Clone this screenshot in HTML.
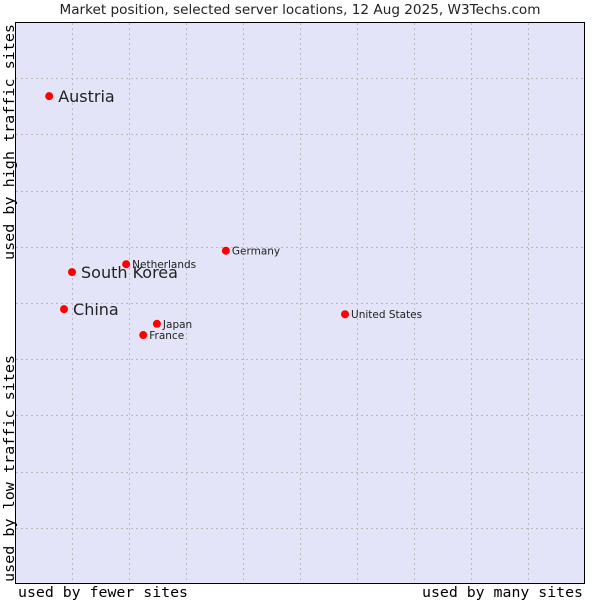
<!DOCTYPE html>
<html><head><meta charset="utf-8"><style>
body{margin:0;background:#fff;}
svg{display:block;font-family:"DejaVu Sans","Liberation Sans",sans-serif;}
.mono{font-family:"DejaVu Sans Mono","Liberation Mono",monospace;font-size:14px;fill:#000;}
</style></head><body>
<svg id="chart" width="600" height="600">
<text x="300" y="14" text-anchor="middle" font-size="13" fill="#222" textLength="481" lengthAdjust="spacingAndGlyphs">Market position, selected server locations, 12 Aug 2025, W3Techs.com</text>
<rect x="15.5" y="22.5" width="569" height="561" fill="#e3e4f7" stroke="#000"/>
<g id="grid"></g>
<g id="pts"></g>
<text class="mono" x="18" y="597" textLength="170" lengthAdjust="spacingAndGlyphs">used by fewer sites</text>
<text class="mono" x="422" y="597" textLength="161" lengthAdjust="spacingAndGlyphs">used by many sites</text>
<text class="mono" transform="translate(14,260) rotate(-90)" textLength="236" lengthAdjust="spacingAndGlyphs">used by high traffic sites</text>
<text class="mono" transform="translate(14,582) rotate(-90)" textLength="227" lengthAdjust="spacingAndGlyphs">used by low traffic sites</text>
</svg>
<script>
const names=["Austria","South Korea","China","Netherlands","Germany","Japan","France","United States"];
const xs=[0.6,1.0,0.86,1.95,3.70,2.49,2.25,5.79];
const ys=[8.68,5.55,4.89,5.69,5.93,4.63,4.43,4.80];
const big=[true,true,true,false,false,false,false,false];
const ns="http://www.w3.org/2000/svg";
const X0=15,X1=585,Y0=584,Y1=22;
const sx=v=>X0+v/10*(X1-X0), sy=v=>Y0-v/10*(Y0-Y1);
const grid=document.getElementById('grid');
for(let k=1;k<10;k++){
  let l=document.createElementNS(ns,'line');
  
  
  l.setAttribute('x1',Math.round(sx(k))+.5);l.setAttribute('x2',Math.round(sx(k))+.5);
  l.setAttribute('y1',23);l.setAttribute('y2',583);
  l.setAttribute('stroke','#bbbbbb');l.setAttribute('stroke-dasharray','2,3');
  grid.appendChild(l);
  let h=document.createElementNS(ns,'line');
  
  
  h.setAttribute('y1',Math.round(sy(k))+.5);h.setAttribute('y2',Math.round(sy(k))+.5);
  h.setAttribute('x1',16);h.setAttribute('x2',584);
  h.setAttribute('stroke','#bbbbbb');h.setAttribute('stroke-dasharray','2,3');
  grid.appendChild(h);
}
const pts=document.getElementById('pts');
names.forEach((n,i)=>{
  const x=sx(xs[i]),y=sy(ys[i]);
  let c=document.createElementNS(ns,'circle');
  
  
  c.setAttribute('cx',x);c.setAttribute('cy',y);c.setAttribute('r',4);c.setAttribute('fill','#f00');
  pts.appendChild(c);
  let t=document.createElementNS(ns,'text');
  
  
  t.setAttribute('x',x+(big[i]?9:6));t.setAttribute('y',y+(big[i]?6:4));
  t.setAttribute('font-size',big[i]?16:10.5);t.setAttribute('fill','#222');
  t.textContent=n;pts.appendChild(t);
});
</script>
</body></html>
